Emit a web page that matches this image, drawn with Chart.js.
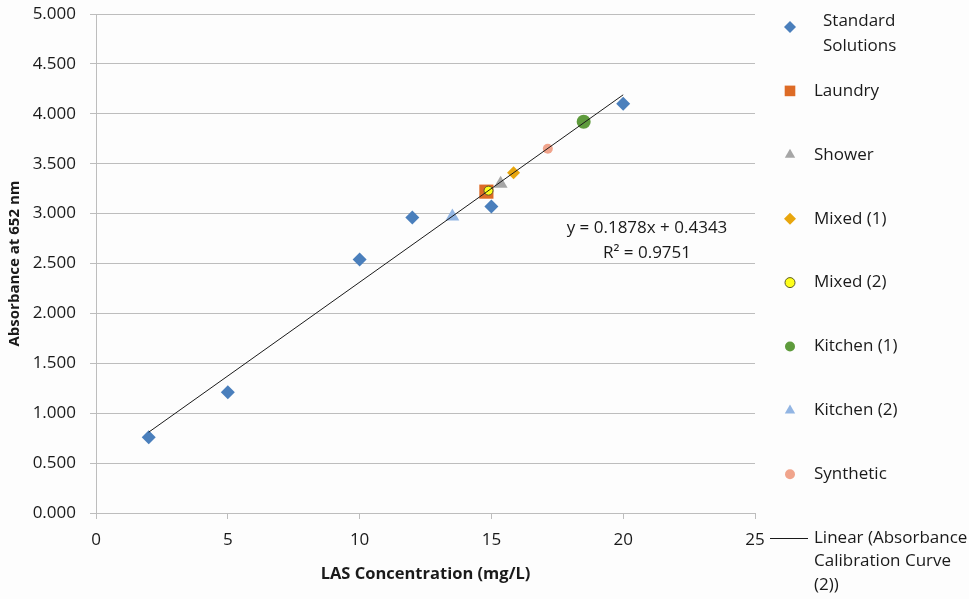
<!DOCTYPE html>
<html>
<head>
<meta charset="utf-8">
<script src="https://cdn.jsdelivr.net/npm/chart.js@4/dist/chart.umd.min.js"></script>
<style>
  html, body { margin: 0; padding: 0; background: #fdfdfd; }
  #wrap { width: 969px; height: 599px; position: relative; }
</style>
</head>
<body>
<div id="wrap"><canvas id="calChart" width="969" height="599"></canvas></div>
<script>
// Calibration standards
const stdX = [2, 5, 10, 12, 15, 20];
const stdY = [0.76, 1.21, 2.54, 2.96, 3.07, 4.10];

// Greywater samples
const sampleNames = ['Laundry', 'Shower', 'Mixed (1)', 'Mixed (2)', 'Kitchen (1)', 'Kitchen (2)', 'Synthetic'];
const sampleX = [14.81, 15.35, 15.84, 14.89, 18.50, 13.52, 17.14];
const sampleY = [3.22, 3.30, 3.41, 3.23, 3.92, 2.97, 3.65];

// Linear fit of the standards
const slope = 0.1878;
const intercept = 0.4343;
const rSquared = 0.9751;
const fitRange = [2, 20];

// Axis ticks
const xTicks = [0, 5, 10, 15, 20, 25];
const yTicks = [0, 0.5, 1, 1.5, 2, 2.5, 3, 3.5, 4, 4.5, 5];

// Marker styles
const sampleColors = ['#dd6b26', '#a6a6a6', '#e8a60e', '#ffff1a', '#5e9b3c', '#92b5e3', '#f0a48c'];
const sampleShapes = ['rect', 'triangle', 'rectRot', 'circle', 'circle', 'triangle', 'circle'];
const sampleRadius = [10, 8, 6.5, 4.5, 7, 8, 5];
const FONT = '"Open Sans", sans-serif';
const INK = '#1a1a1a';

const ctx = document.getElementById('calChart').getContext('2d');

const datasets = [{
    label: 'Standard Solutions',
    data: stdX.map((x, i) => ({ x: x, y: stdY[i] })),
    pointStyle: 'rectRot',
    pointRadius: 7,
    backgroundColor: '#4a7fbc',
    borderWidth: 0,
    order: 0,
    legendLines: ['Standard', 'Solutions']
}];

// later series are painted over earlier ones
sampleNames.forEach((name, i) => {
    datasets.push({
        label: name,
        data: [{ x: sampleX[i], y: sampleY[i] }],
        pointStyle: sampleShapes[i],
        pointRadius: sampleRadius[i],
        backgroundColor: sampleColors[i],
        borderColor: name === 'Mixed (2)' ? '#5a5a2a' : sampleColors[i],
        borderWidth: name === 'Mixed (2)' ? 1 : 0,
        order: -(i + 1),
        legendLines: [name]
    });
});

// trendline goes on top of everything
datasets.push({
    type: 'line',
    label: 'Linear (Absorbance Calibration Curve (2))',
    data: fitRange.map(x => ({ x: x, y: slope * x + intercept })),
    borderColor: INK,
    borderWidth: 1,
    pointRadius: 0,
    fill: false,
    order: -20,
    legendLines: ['Linear (Absorbance', 'Calibration Curve', '(2))']
});

// Equation label and side legend
const extrasPlugin = {
    id: 'extras',
    afterDraw(chart) {
        const c = chart.ctx;
        c.save();
        c.fillStyle = INK;
        c.font = '17px ' + FONT;
        c.textAlign = 'center';
        c.textBaseline = 'middle';
        c.fillText('y = ' + slope + 'x + ' + intercept, 647, 228);
        c.fillText('R² = ' + rSquared, 647, 253);

        c.textAlign = 'left';
        const rowGap = 63.9;
        chart.data.datasets.forEach((ds, i) => {
            const cy = 27 + i * rowGap;
            if (ds.type === 'line') {
                const ly = 538;
                c.strokeStyle = INK;
                c.lineWidth = 1;
                c.beginPath();
                c.moveTo(770, ly + 0.5);
                c.lineTo(808, ly + 0.5);
                c.stroke();
                ds.legendLines.forEach((t, k) => c.fillText(t, 814, ly + k * 23.5));
                return;
            }
            c.fillStyle = ds.backgroundColor;
            c.strokeStyle = ds.borderColor || ds.backgroundColor;
            Chart.helpers.drawPoint(c, {
                pointStyle: ds.pointStyle,
                radius: ds.pointStyle === 'rect' ? 7.5 : (ds.pointStyle === 'circle' ? 5 : 6),
                borderWidth: ds.borderWidth,
                rotation: 0
            }, 790, cy);
            c.fillStyle = INK;
            if (ds.legendLines.length > 1) {
                ds.legendLines.forEach((t, k) => c.fillText(t, 823, 21 + k * 25));
            } else {
                c.fillText(ds.legendLines[0], 814, cy);
            }
        });
        c.restore();
    }
};

new Chart(ctx, {
    type: 'scatter',
    data: { datasets: datasets },
    options: {
        responsive: false,
        animation: false,
        layout: { padding: { left: 0, top: 14, right: 214, bottom: 0 } },
        plugins: {
            legend: { display: false },
            tooltip: { enabled: false }
        },
        scales: {
            x: {
                type: 'linear',
                min: 0,
                max: 25,
                afterBuildTicks: s => { s.ticks = xTicks.map(v => ({ value: v })); },
                afterFit: s => { s.height = 86; },
                grid: {
                    display: true,
                    drawOnChartArea: false,
                    drawTicks: true,
                    tickLength: 6,
                    color: '#bdbdbd'
                },
                border: { color: '#bdbdbd' },
                ticks: {
                    color: INK,
                    font: { family: FONT, size: 17 },
                    padding: 11,
                    maxRotation: 0
                },
                title: {
                    display: true,
                    text: 'LAS Concentration (mg/L)',
                    color: INK,
                    font: { family: FONT, size: 16.5, weight: 'bold' },
                    padding: { top: 2, bottom: 15 }
                }
            },
            y: {
                type: 'linear',
                min: 0,
                max: 5,
                afterBuildTicks: s => { s.ticks = yTicks.map(v => ({ value: v })); },
                afterFit: s => {
                    s.width = 96;
                    s.paddingTop = 0;
                    s.paddingBottom = 0;
                },
                grid: {
                    color: '#bdbdbd',
                    tickLength: 6
                },
                border: { color: '#bdbdbd' },
                ticks: {
                    color: INK,
                    font: { family: FONT, size: 17 },
                    padding: 14,
                    callback: v => v.toFixed(3)
                },
                title: {
                    display: true,
                    text: 'Absorbance at 652 nm',
                    color: INK,
                    font: { family: FONT, size: 15, weight: 'bold' },
                    padding: { top: 6, bottom: 0 }
                }
            }
        }
    },
    plugins: [extrasPlugin]
});
</script>
</body>
</html>
